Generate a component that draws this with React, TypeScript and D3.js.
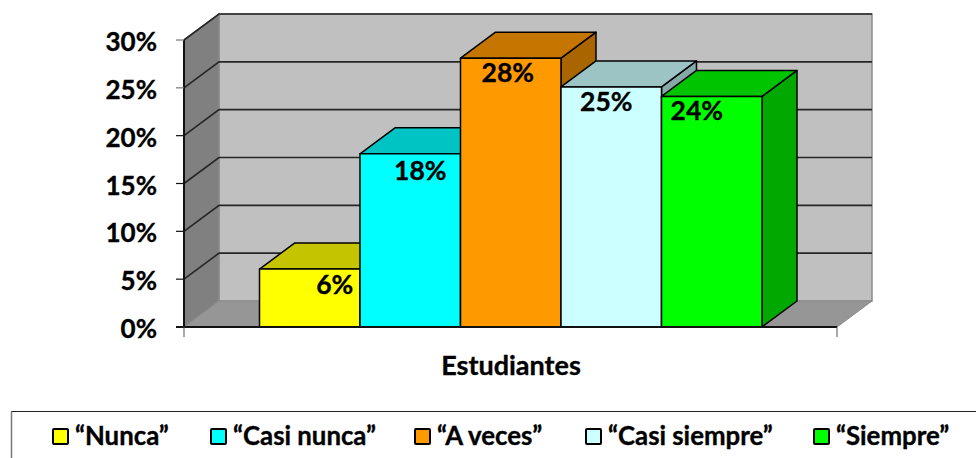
import React from "react";
import * as d3 from "d3";

const categories = ["“Nunca”", "“Casi nunca”", "“A veces”", "“Casi siempre”", "“Siempre”"];
const values = [6.05, 18.1, 28.1, 25.1, 24.1];
const valueLabels = ["6%", "18%", "28%", "25%", "24%"];
const frontColors = ["#ffff00", "#00ffff", "#ff9900", "#ccffff", "#00ff00"];
const topColors = ["#c4c400", "#00c4c4", "#c47600", "#9dc4c4", "#00c400"];
const sideColors = ["#a8a800", "#00a8a8", "#a86500", "#86a8a8", "#00a800"];
const yTicks = [0, 5, 10, 15, 20, 25, 30];
const axisTitle = "Estudiantes";
const labelOffsets: [number, number][] = [[25, 16], [10, 17], [-3, 15], [-5, 15], [-15, 15]];
const legendSwatchX = [53, 211, 415, 586, 814];

const FONT = "Lato, 'Open Sans', sans-serif";
const W = 976, H = 458;
const x0 = 184, x1 = 837, y0 = 327, yTop = 40, dx = 35, dy = -26;

export default function App() {
  const y = d3.scaleLinear().domain([0, 30]).range([y0, yTop]);
  const x = d3.scaleBand<string>().domain(categories).range([259.5, 762]).padding(0);
  const bw = x.bandwidth();
  const poly = (pts: [number, number][]) => d3.line()(pts)! + "Z";
  const wallEdge = "#8a8a8a";
  const textStyle = { stroke: "#000", strokeWidth: 0.35 };
  return (
    <svg width={W} height={H} viewBox={`0 0 ${W} ${H}`} style={{ position: "absolute", left: 0, top: 0, display: "block", background: "#fff" }} fontFamily={FONT} fontWeight={700}>
      {/* walls */}
      <path d={poly([[x0 + dx, yTop + dy], [x1 + dx, yTop + dy], [x1 + dx, y0 + dy], [x0 + dx, y0 + dy]])} fill="#c0c0c0" stroke={wallEdge} strokeWidth={1.5} />
      <path d={poly([[x0, yTop], [x0 + dx, yTop + dy], [x0 + dx, y0 + dy], [x0, y0]])} fill="#808080" stroke={wallEdge} strokeWidth={1.5} />
      <path d={poly([[x0, y0], [x0 + dx, y0 + dy], [x1 + dx, y0 + dy], [x1, y0]])} fill="#969696" stroke={wallEdge} strokeWidth={1} />
      {/* gridlines */}
      {yTicks.filter(t => t > 0).map(t => (
        <path key={t} d={`M${x0},${y(t)}L${x0 + dx},${y(t) + dy}L${x1 + dx},${y(t) + dy}`} fill="none" stroke="#262626" strokeWidth={1.6} />
      ))}
      {/* axes */}
      <line x1={x0} x2={x0} y1={yTop} y2={y0} stroke="#111" strokeWidth={2} />
      {yTicks.map(t => (
        <g key={t}>
          <line x1={x0 - 8} x2={x0} y1={y(t)} y2={y(t)} stroke={t === 30 || t === 25 ? "#777" : "#111"} strokeWidth={1.2} />
          <text x={157} y={y(t) + 11} textAnchor="end" fontSize={26} fill="#000" style={textStyle}>{t}%</text>
        </g>
      ))}
      {/* bars */}
      {categories.map((c, i) => {
        const l = x(c)!, r = l + bw, t = y(values[i]);
        return (
          <g key={c} stroke="#000" strokeWidth={1.5} strokeLinejoin="round">
            <path d={poly([[r, t], [r + dx, t + dy], [r + dx, y0 + dy], [r, y0]])} fill={sideColors[i]} />
            <path d={poly([[l, t], [l + dx, t + dy], [r + dx, t + dy], [r, t]])} fill={topColors[i]} />
            <path d={poly([[l, t], [r, t], [r, y0], [l, y0]])} fill={frontColors[i]} />
          </g>
        );
      })}
      <line x1={x0 - 8} x2={x1} y1={y0} y2={y0} stroke="#111" strokeWidth={1.8} />
      <line x1={x0} x2={x0} y1={y0} y2={y0 + 10} stroke="#555" strokeWidth={1} />
      <line x1={x1} x2={x1} y1={y0} y2={y0 + 10} stroke="#555" strokeWidth={1} />
      {/* value labels */}
      {categories.map((c, i) => (
        <text key={c} x={x(c)! + bw / 2 + labelOffsets[i][0]} y={y(values[i]) + labelOffsets[i][1] + 9} textAnchor="middle" fontSize={26.5} fill="#000" style={textStyle}>{valueLabels[i]}</text>
      ))}
      <text x={511} y={375} textAnchor="middle" fontSize={27} fill="#000" style={textStyle}>{axisTitle}</text>
      {/* legend */}
      <path d={`M11.5,458V411.5H${W}`} fill="none" stroke="#222" strokeWidth={1} />
      <line x1={11.5} x2={11.5} y1={412} y2={458} stroke="#777" strokeWidth={1.5} />
      {categories.map((c, i) => (
        <g key={c}>
          <rect x={legendSwatchX[i]} y={429} width={15} height={15} fill={frontColors[i]} stroke="#000" strokeWidth={2} rx={1} />
          <text x={legendSwatchX[i] + 22} y={445} fontSize={25.8} fill="#000" style={textStyle}>{c}</text>
        </g>
      ))}
    </svg>
  );
}
